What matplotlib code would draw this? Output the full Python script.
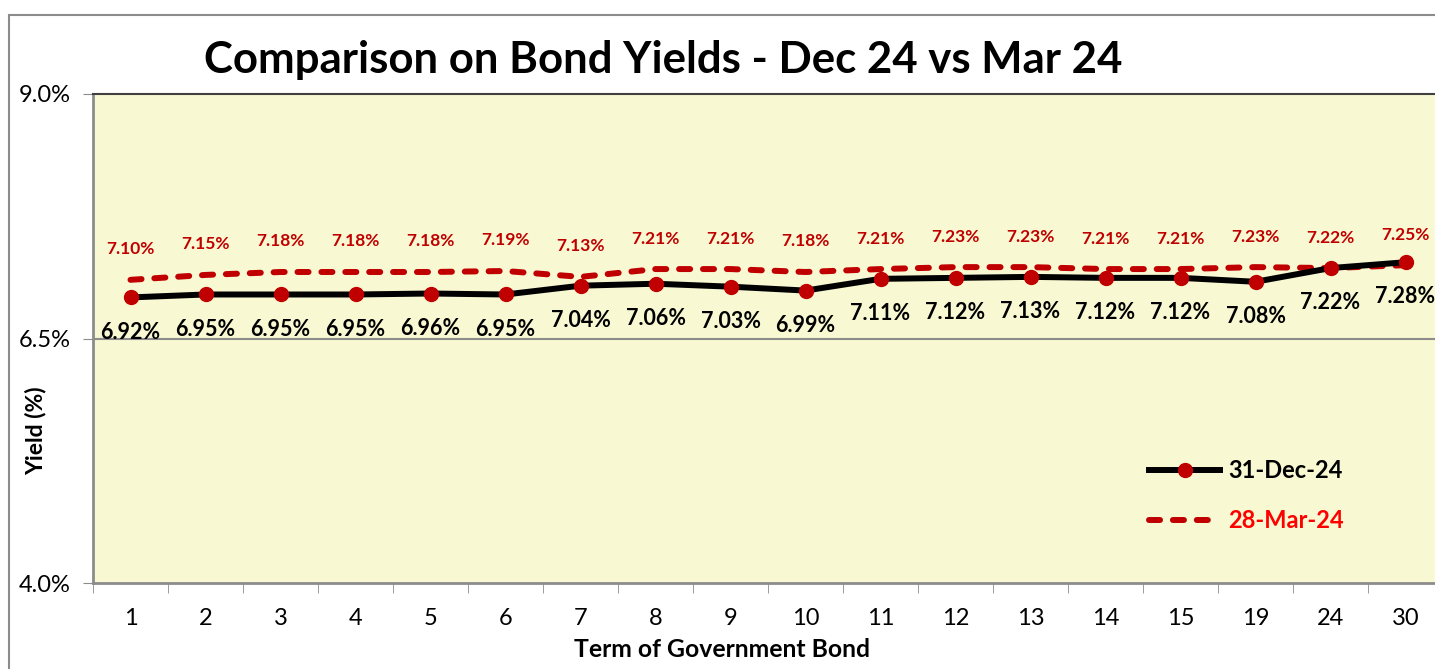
# Bond yield comparison chart

import matplotlib.pyplot as plt
from matplotlib.patches import Rectangle

plt.rcParams['font.family'] = ['Lato', 'DejaVu Sans']

# Data
terms = ["1", "2", "3", "4", "5", "6", "7", "8", "9", "10",
         "11", "12", "13", "14", "15", "19", "24", "30"]
dec24 = [6.92, 6.95, 6.95, 6.95, 6.96, 6.95, 7.04, 7.06, 7.03, 6.99,
         7.11, 7.12, 7.13, 7.12, 7.12, 7.08, 7.22, 7.28]
mar24 = [7.10, 7.15, 7.18, 7.18, 7.18, 7.19, 7.13, 7.21, 7.21, 7.18,
         7.21, 7.23, 7.23, 7.21, 7.21, 7.23, 7.22, 7.25]
yticks = [4.0, 6.5, 9.0]

fig = plt.figure(figsize=(14.35, 6.69), dpi=100)

# Outer chart border
fig.patches.append(Rectangle((9/1435, -0.1), 1.2, 1.1 - 15/669,
                             transform=fig.transFigure, fill=False,
                             edgecolor="#8c8c8c", linewidth=1.5))

ax = fig.add_axes([93/1435, 86/669, 1350/1435, 489/669])
ax.set_facecolor("#f8f8d2")

x = list(range(len(terms)))

# Lines
ax.plot(x, mar24, color="#c00000", linestyle=(0, (1.85, 2.15)), linewidth=4.3,
        dash_capstyle="round", label="28-Mar-24", zorder=3)
ax.plot(x, dec24, color="black", linewidth=4.3, marker="o", markersize=10,
        markerfacecolor="#c00000", markeredgecolor="#c00000",
        label="31-Dec-24", zorder=4)

# Data labels
for i in x:
    ax.annotate(f"{mar24[i]:.2f}%", (i, mar24[i]), xytext=(0, 22),
                textcoords="offset points", ha="center", va="center",
                color="#c00000", fontsize=12.5, fontweight="bold")
    ax.annotate(f"{dec24[i]:.2f}%", (i, dec24[i]), xytext=(0, -25),
                textcoords="offset points", ha="center", va="center",
                color="black", fontsize=15.5, fontweight="bold")

# Axes
ax.set_xlim(-0.5, len(terms) - 0.5)
ax.set_ylim(4.0, 9.0)
ax.set_yticks(yticks)
ax.set_yticklabels([f"{v:.1f}%" for v in yticks], fontsize=17)
ax.set_xticks(x)
ax.set_xticklabels(terms, fontsize=17)
ax.set_xticks([i + 0.5 for i in range(-1, len(terms))], minor=True)
ax.tick_params(axis="x", which="major", length=0, pad=18)
ax.tick_params(axis="x", which="minor", length=7, color="#8c8c8c")
ax.tick_params(axis="y", length=7, color="#8c8c8c", pad=9)
ax.axhline(6.5, color="#8c8c8c", linewidth=1.5, zorder=1)

for side in ["left", "bottom"]:
    ax.spines[side].set_color("#8c8c8c")
    ax.spines[side].set_linewidth(2)
ax.spines["top"].set_color("#404040")
ax.spines["top"].set_linewidth(1.5)
ax.spines["right"].set_visible(False)

ax.set_xlabel("Term of Government Bond", fontsize=17.8, fontweight="bold")
ax.xaxis.set_label_coords((722 - 93) / 1350, (583 - 638) / 489)
ax.set_ylabel("Yield (%)", fontsize=16.5, fontweight="bold")
ax.yaxis.set_label_coords((47 - 93) / 1350, (583 - 431) / 489)

fig.text(663/1435, 1 - 60/669, "Comparison on Bond Yields - Dec 24 vs Mar 24",
         ha="center", va="center", fontsize=31.5, fontweight="bold")

# Legend
handles, labels = ax.get_legend_handles_labels()
leg = ax.legend(handles[::-1], labels[::-1], loc="upper left",
                bbox_to_anchor=((1128 - 93) / 1350, (583 - 438) / 489),
                frameon=False, handlelength=3.0, handletextpad=0.35,
                labelspacing=1.15, prop={"weight": "bold", "size": 17})
leg.get_texts()[0].set_color("black")
leg.get_texts()[1].set_color("#ff0000")

plt.savefig("out.png", dpi=100)
